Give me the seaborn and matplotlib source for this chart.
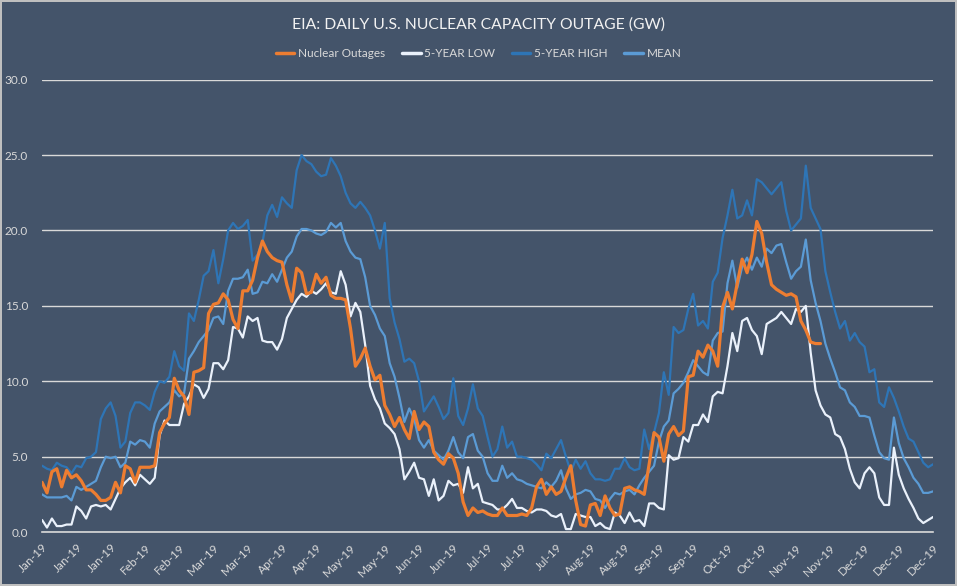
import pandas as pd
import matplotlib.pyplot as plt
import seaborn as sns

# values, one point every 2 days (GW)
outages = [3.3, 2.6, 4.0, 4.2, 3.0, 4.1, 3.6, 3.8, 3.4, 2.8, 2.8, 2.5, 2.1, 2.1, 2.3, 3.3,
           2.6, 4.4, 4.2, 3.3, 4.3, 4.3, 4.3, 4.4, 6.6, 7.2, 7.6, 10.2, 9.4, 9.0, 7.8, 10.6,
           10.7, 10.9, 14.5, 15.1, 15.2, 15.8, 15.4, 14.1, 13.5, 16.0, 16.0, 16.7, 18.2, 19.3, 18.6, 18.2,
           18.0, 17.9, 16.4, 15.3, 17.5, 17.2, 15.8, 15.9, 17.1, 16.5, 16.9, 15.7, 15.5, 15.5, 15.4, 13.5,
           11.0, 11.5, 12.2, 11.0, 10.1, 10.4, 8.4, 7.8, 7.0, 7.6, 6.8, 6.2, 8.0, 6.8, 7.3, 7.0,
           5.3, 4.8, 4.5, 5.2, 4.9, 3.9, 2.0, 1.1, 1.6, 1.3, 1.4, 1.2, 1.1, 1.1, 1.6, 1.1,
           1.1, 1.1, 1.2, 1.1, 1.6, 3.0, 3.5, 2.5, 3.0, 2.5, 2.7, 3.6, 4.4, 2.1, 0.5, 0.4,
           1.8, 1.9, 1.1, 2.4, 1.6, 1.1, 1.2, 2.9, 3.0, 2.8, 2.7, 2.5, 4.5, 6.6, 6.3, 4.7,
           6.5, 7.0, 6.4, 6.7, 10.3, 10.4, 12.0, 11.6, 12.4, 12.0, 11.0, 14.9, 15.9, 14.8, 16.5, 18.1,
           17.2, 18.4, 20.6, 19.8, 17.9, 16.4, 16.1, 15.9, 15.7, 15.8, 15.6, 14.0, 13.4, 12.6, 12.5, 12.5]

low_5y = [0.8, 0.3, 0.9, 0.4, 0.4, 0.5, 0.5, 1.7, 1.4, 0.9, 1.7, 1.8, 1.7, 1.8, 1.5, 2.2,
          2.9, 3.3, 3.6, 3.1, 3.8, 3.5, 3.2, 3.6, 6.4, 7.4, 7.1, 7.1, 7.1, 8.5, 9.0, 9.8,
          9.6, 8.9, 9.5, 11.2, 11.2, 10.8, 11.4, 13.6, 13.5, 12.9, 14.3, 14.0, 14.2, 12.7, 12.6, 12.6,
          12.1, 12.8, 14.2, 14.8, 15.4, 15.8, 15.6, 16.0, 15.8, 16.1, 16.5, 15.9, 15.8, 17.3, 16.4, 14.3,
          15.2, 14.6, 12.4, 9.7, 8.8, 8.2, 7.2, 6.9, 6.5, 5.5, 3.5, 4.0, 4.6, 3.6, 3.5, 2.4,
          3.5, 2.1, 2.4, 3.4, 3.1, 3.2, 2.6, 4.3, 2.9, 3.2, 2.0, 1.9, 1.8, 1.5, 1.5, 1.8,
          2.2, 1.6, 1.6, 1.4, 1.3, 1.5, 1.5, 1.4, 1.1, 1.0, 1.2, 0.2, 0.2, 1.2, 1.1, 1.0,
          1.0, 0.4, 0.6, 0.3, 0.2, 1.3, 1.1, 0.6, 1.3, 0.7, 0.8, 0.4, 1.9, 1.9, 1.6, 1.5,
          5.1, 4.8, 4.9, 6.3, 6.0, 7.1, 7.1, 7.8, 7.3, 9.0, 9.3, 9.2, 11.0, 13.2, 12.0, 14.0,
          14.2, 13.4, 13.0, 11.8, 13.8, 14.0, 14.2, 14.6, 14.2, 13.8, 14.8, 14.6, 15.0, 11.9, 9.4, 8.4,
          7.8, 7.6, 6.5, 6.3, 5.5, 4.2, 3.3, 2.9, 3.9, 4.3, 3.9, 2.3, 1.8, 1.8, 5.6, 3.8,
          2.9, 2.2, 1.6, 0.9, 0.6, 0.8, 1.0]

high_5y = [4.4, 4.2, 4.1, 4.6, 4.4, 4.3, 3.9, 4.4, 4.3, 4.9, 5.0, 5.3, 7.5, 8.2, 8.6, 7.7,
           5.6, 6.0, 7.9, 8.6, 8.6, 8.4, 8.1, 9.3, 10.0, 9.9, 10.3, 12.0, 11.0, 10.7, 14.5, 14.0,
           15.4, 17.0, 17.3, 18.7, 16.5, 18.1, 20.0, 20.5, 20.1, 20.3, 20.7, 18.0, 18.4, 19.2, 21.0, 21.7,
           20.9, 22.2, 21.8, 21.5, 24.0, 25.0, 24.6, 24.4, 23.9, 23.6, 23.7, 24.8, 24.3, 23.6, 22.5, 21.8,
           21.5, 21.9, 21.5, 21.0, 20.0, 18.8, 20.5, 15.5, 13.9, 12.8, 11.3, 11.5, 11.2, 10.0, 8.0, 8.5,
           9.0, 8.3, 7.5, 7.9, 10.2, 7.7, 7.1, 8.2, 9.8, 8.2, 7.7, 6.3, 5.0, 5.5, 7.0, 5.6,
           6.0, 5.0, 5.0, 4.9, 4.8, 4.5, 4.1, 5.2, 4.9, 5.5, 6.1, 5.0, 4.0, 4.8, 4.2, 4.7,
           3.9, 3.5, 3.5, 3.4, 3.5, 4.2, 4.2, 4.9, 4.3, 4.1, 4.2, 6.8, 5.5, 6.6, 7.9, 10.6,
           9.1, 13.6, 13.2, 13.4, 14.8, 15.8, 13.7, 14.0, 13.5, 16.6, 17.2, 19.5, 21.0, 22.7, 20.8, 21.0,
           22.0, 21.0, 23.4, 23.2, 22.8, 22.4, 22.8, 23.2, 21.3, 20.0, 20.4, 20.8, 24.3, 21.5, 20.8, 20.1,
           17.3, 15.9, 14.6, 13.5, 14.0, 12.7, 13.2, 12.6, 12.3, 10.6, 10.8, 8.6, 8.3, 9.6, 8.9, 8.0,
           7.0, 6.2, 6.0, 5.3, 4.6, 4.3, 4.5]

mean_5y = [2.5, 2.3, 2.3, 2.3, 2.3, 2.4, 2.1, 3.0, 2.8, 3.0, 3.2, 3.4, 4.3, 5.0, 4.9, 5.0,
           4.3, 4.6, 6.0, 5.8, 6.1, 6.0, 5.6, 7.2, 8.0, 8.3, 8.6, 9.4, 9.0, 9.2, 11.5, 12.0,
           12.6, 13.0, 13.4, 14.2, 14.3, 13.8, 16.0, 16.8, 16.8, 16.9, 17.4, 15.8, 15.9, 16.6, 16.5, 17.1,
           16.6, 17.4, 18.2, 18.6, 19.6, 20.1, 20.1, 20.0, 19.8, 19.7, 19.9, 20.5, 20.2, 20.5, 19.3, 18.6,
           18.2, 18.1, 16.9, 15.0, 14.4, 13.5, 13.0, 11.2, 10.3, 8.9, 7.3, 8.2, 7.5, 6.1, 5.6, 6.1,
           5.4, 5.1, 4.8, 5.4, 6.3, 5.3, 4.9, 6.3, 6.5, 5.4, 5.0, 3.9, 3.4, 3.4, 4.4, 3.6,
           3.9, 3.5, 3.4, 3.2, 3.1, 3.0, 2.9, 3.3, 3.0, 3.4, 4.1, 2.9, 2.2, 2.5, 2.6, 2.8,
           2.7, 2.2, 2.1, 1.6, 2.2, 2.6, 2.5, 2.7, 2.8, 2.5, 3.1, 3.6, 4.0, 4.4, 6.0, 7.0,
           7.4, 9.2, 9.5, 9.9, 10.6, 11.4, 11.0, 10.6, 10.4, 12.7, 13.2, 13.3, 16.5, 18.0, 16.2, 17.6,
           18.2, 17.4, 18.2, 17.6, 18.8, 18.5, 19.0, 19.1, 17.9, 16.8, 17.3, 17.6, 19.4, 16.7, 15.2, 14.0,
           12.5, 11.5, 10.6, 9.6, 9.4, 8.6, 8.3, 7.7, 7.7, 7.6, 6.4, 5.3, 4.9, 4.8, 7.6, 5.9,
           4.9, 4.3, 3.6, 3.2, 2.6, 2.6, 2.7]

dates = pd.date_range("2019-01-01", periods=len(low_5y), freq="2D")
out_dates = pd.date_range("2019-01-01", periods=len(outages), freq="2D")

df = pd.DataFrame({"Date": dates, "5-YEAR LOW": low_5y, "5-YEAR HIGH": high_5y, "MEAN": mean_5y})
df_out = pd.DataFrame({"Date": out_dates, "Nuclear Outages": outages})

bg = "#44546A"
txt = "#D9D9D9"
sns.set_style("white", {"axes.facecolor": bg, "figure.facecolor": bg})
plt.rcParams["font.family"] = ["Lato", "DejaVu Sans"]

fig = plt.figure(figsize=(9.57, 5.86), dpi=100)
fig.patch.set_edgecolor("#BFBFBF")
fig.patch.set_linewidth(1.5)
ax = fig.add_axes([0.044, 0.092, 0.931, 0.772])

sns.lineplot(data=df_out, x="Date", y="Nuclear Outages", color="#ED7D31", lw=2.3,
             ax=ax, label="Nuclear Outages", zorder=5)
sns.lineplot(data=df, x="Date", y="5-YEAR LOW", color="#EAF1FB", lw=1.6, ax=ax, label="5-YEAR LOW", zorder=4)
sns.lineplot(data=df, x="Date", y="5-YEAR HIGH", color="#2E75B6", lw=1.6, ax=ax, label="5-YEAR HIGH", zorder=3)
sns.lineplot(data=df, x="Date", y="MEAN", color="#5B9BD5", lw=1.6, ax=ax, label="MEAN", zorder=3)

ax.set_xlim(pd.Timestamp("2019-01-01"), pd.Timestamp("2019-12-31"))
ax.set_ylim(0, 30)
ax.set_yticks(range(0, 31, 5))
ax.set_yticklabels([f"{v:.1f}" for v in range(0, 31, 5)], color=txt, fontsize=8.5)
ticks = pd.date_range("2019-01-01", "2019-12-31", freq="14D")
ax.set_xticks(ticks)
ax.set_xticklabels([t.strftime("%b-%y") for t in ticks], rotation=45, ha="right",
                   rotation_mode="anchor", color=txt, fontsize=8.5)
ax.tick_params(axis="x", length=4, color=txt, width=1, pad=3)
ax.tick_params(axis="y", length=0, pad=10)
ax.yaxis.grid(True, color=txt, lw=1)
ax.set_axisbelow(True)
for s in ["top", "right", "left"]:
    ax.spines[s].set_visible(False)
ax.spines["bottom"].set_color(txt)
ax.spines["bottom"].set_linewidth(1.2)
ax.set_xlabel("")
ax.set_ylabel("")

ax.get_legend().remove()
h, l = ax.get_legend_handles_labels()
leg = fig.legend(h, l, loc="center", bbox_to_anchor=(0.5, 0.909), ncol=4, frameon=False,
                 fontsize=8.5, handlelength=1.6, columnspacing=1.4, handletextpad=0.3)
for t in leg.get_texts():
    t.set_color(txt)
for line in leg.get_lines():
    line.set_linewidth(2.5)

fig.text(0.5, 0.958, "EIA: DAILY U.S. NUCLEAR CAPACITY OUTAGE (GW)", ha="center", va="center",
         color="#F2F2F2", fontsize=11.3)

fig.savefig("out.png", dpi=100, facecolor=bg, edgecolor=fig.get_edgecolor())
